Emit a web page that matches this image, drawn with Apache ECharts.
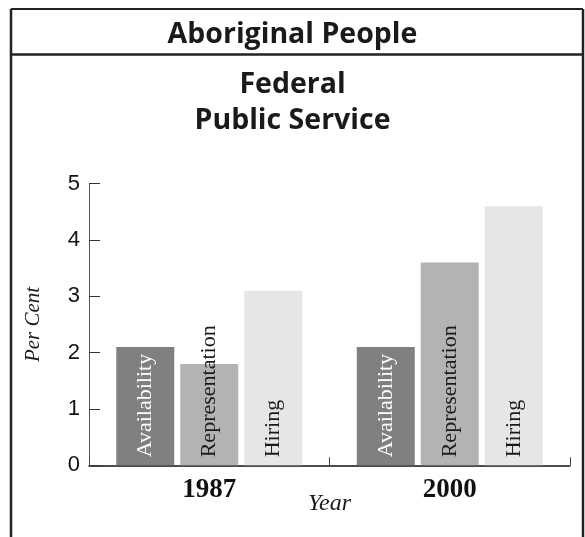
<!DOCTYPE html>
<html>
<head>
<meta charset="utf-8">
<script src="https://cdn.jsdelivr.net/npm/echarts@6/dist/echarts.min.js"></script>
<style>
  html, body { margin: 0; padding: 0; background: #fff; }
  #chart { width: 585px; height: 537px; }
</style>
</head>
<body>
<div id="chart"></div>
<script>
// Aboriginal people in the federal public service, per cent
const years = ['1987', '2000'];
const availability = [2.1, 2.1];
const representation = [1.8, 3.6];
const hiring = [3.1, 4.6];
const yTicks = [0, 1, 2, 3, 4, 5];

const seriesDefs = [
  { name: 'Availability', data: availability, color: '#808080', text: '#ffffff' },
  { name: 'Representation', data: representation, color: '#b3b3b3', text: '#1a1a1a' },
  { name: 'Hiring', data: hiring, color: '#e6e6e6', text: '#1a1a1a' }
];

const chart = echarts.init(document.getElementById('chart'), null, { renderer: 'canvas' });

const serif = '"Liberation Serif", "DejaVu Serif", serif';
const sans = '"Liberation Sans", Arial, sans-serif';
const heading = '"Open Sans", "Noto Sans", sans-serif';

chart.setOption({
  animation: false,
  backgroundColor: '#ffffff',
  title: [
    {
      text: 'Aboriginal People',
      left: 'center',
      top: 15,
      textStyle: { fontFamily: heading, fontWeight: 'bold', fontSize: 28.5, color: '#1a1a1a' }
    },
    {
      text: 'Federal\nPublic Service',
      left: 'center',
      top: 62,
      textStyle: { fontFamily: heading, fontWeight: 'bold', fontSize: 28.5, lineHeight: 36, color: '#1a1a1a' }
    }
  ],
  graphic: [
    // frame around the panel, open at the bottom
    { type: 'line', shape: { x1: 11, y1: 9, x2: 583, y2: 9 }, style: { stroke: '#222', lineWidth: 2 } },
    { type: 'line', shape: { x1: 11, y1: 9, x2: 11, y2: 537 }, style: { stroke: '#222', lineWidth: 2.5 } },
    { type: 'line', shape: { x1: 583, y1: 9, x2: 583, y2: 537 }, style: { stroke: '#222', lineWidth: 2.5 } },
    { type: 'line', shape: { x1: 11, y1: 54.5, x2: 583, y2: 54.5 }, style: { stroke: '#222', lineWidth: 2.5 } }
  ],
  grid: { left: 89, right: 15, top: 183.7, bottom: 71.7, containLabel: false },
  xAxis: {
    type: 'category',
    data: years,
    boundaryGap: true,
    name: 'Year',
    nameLocation: 'middle',
    nameGap: 26,
    nameMoveOverlap: false,
    nameTextStyle: { fontFamily: serif, fontStyle: 'italic', fontSize: 24, color: '#1a1a1a' },
    axisLine: { show: true, lineStyle: { color: '#111', width: 1.5 } },
    axisTick: { show: true, inside: true, length: 8, lineStyle: { color: '#444', width: 1 } },
    axisLabel: { fontFamily: serif, fontWeight: 'bold', fontSize: 27, color: '#111', margin: 11 },
    splitLine: { show: false }
  },
  yAxis: {
    type: 'value',
    min: yTicks[0],
    max: yTicks[yTicks.length - 1],
    interval: 1,
    name: 'Per Cent',
    nameLocation: 'middle',
    nameGap: 45,
    nameRotate: 90,
    nameMoveOverlap: false,
    nameTextStyle: { fontFamily: serif, fontStyle: 'italic', fontSize: 21, color: '#1a1a1a' },
    axisLine: { show: true, lineStyle: { color: '#555', width: 1 } },
    axisTick: { show: true, inside: true, length: 11, lineStyle: { color: '#333', width: 1 } },
    axisLabel: { fontFamily: sans, fontSize: 22, color: '#111', margin: 9 },
    splitLine: { show: false }
  },
  series: seriesDefs.map(s => ({
    type: 'bar',
    name: s.name,
    data: s.data,
    barWidth: 58,
    barGap: '10.3%',
    itemStyle: { color: s.color },
    label: {
      show: true,
      position: 'insideBottom',
      rotate: 90,
      align: 'left',
      verticalAlign: 'middle',
      distance: 8,
      formatter: s.name,
      fontFamily: serif,
      fontSize: 22,
      color: s.text
    }
  }))
});
</script>
</body>
</html>
